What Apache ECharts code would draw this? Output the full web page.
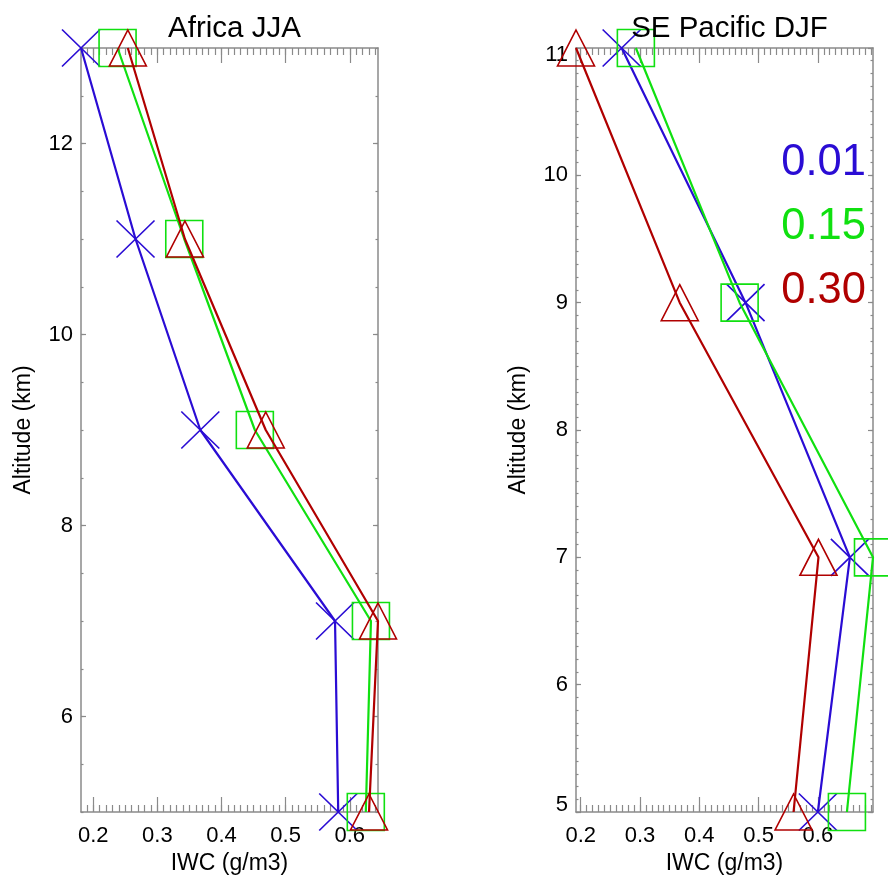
<!DOCTYPE html>
<html>
<head>
<meta charset="utf-8">
<script src="https://cdn.jsdelivr.net/npm/echarts@6/dist/echarts.min.js"></script>
<style>
  html, body { margin: 0; padding: 0; background: #fff; }
  #chart { width: 888px; height: 875px; }
</style>
</head>
<body>
<div id="chart"></div>
<script>
// Altitude levels (km) of each profile
const altitudesAfrica = [13, 11, 9, 7, 5];
const altitudesPacific = [11, 9, 7, 5];

// IWC (g/m3) profiles, one per threshold
const africa001 = [0.181, 0.266, 0.367, 0.577, 0.582];
const africa015 = [0.238, 0.342, 0.452, 0.633, 0.625];
const africa030 = [0.254, 0.343, 0.469, 0.644, 0.630];

const pacific001 = [0.269, 0.478, 0.654, 0.600];
const pacific015 = [0.293, 0.468, 0.693, 0.649];
const pacific030 = [0.192, 0.367, 0.601, 0.559];

// Panel titles, legend entries and tick labels
const panelTitles = ['Africa JJA', 'SE Pacific DJF'];
const thresholdNames = ['0.01', '0.15', '0.30'];
const xTickLabels = [0.2, 0.3, 0.4, 0.5, 0.6];
const yTickLabelsAfrica = [6, 8, 10, 12];
const yTickLabelsPacific = [5, 6, 7, 8, 9, 10, 11];

const colors = ['#2a0cd4', '#10e010', '#b00000'];
const axisGray = '#8a8a8a';
const fontFamily = 'Liberation Sans, Arial, Helvetica, sans-serif';

const chart = echarts.init(document.getElementById('chart'), null, { renderer: 'canvas' });

function steps(min, max, step) {
  const out = [];
  const k0 = Math.ceil(min / step - 1e-9), k1 = Math.floor(max / step + 1e-9);
  for (let k = k0; k <= k1; k++) out.push(Math.round(k * step * 1000) / 1000);
  return out;
}

const panels = [
  {
    grid: { left: 81, top: 48, width: 297, height: 764, outerBoundsMode: 'none', containLabel: false },
    alt: altitudesAfrica,
    series: [africa001, africa015, africa030],
    yLabels: yTickLabelsAfrica,
    yMinorStep: 0.5
  },
  {
    grid: { left: 576, top: 48, width: 297, height: 764, outerBoundsMode: 'none', containLabel: false },
    alt: altitudesPacific,
    series: [pacific001, pacific015, pacific030],
    yLabels: yTickLabelsPacific,
    yMinorStep: 0.1
  }
];

const markers = [
  'path://M0,0L10,10M10,0L0,10',
  'rect',
  'triangle'
];
const markerSizes = [[38, 37], [37, 37], [37, 36]];

const grid = [], xAxis = [], yAxis = [], series = [], title = [];
const tickLine = { color: axisGray, width: 1.2 };

panels.forEach((p, g) => {
  grid.push(p.grid);
  const allX = [].concat(...p.series);
  const xMin = Math.min(...allX), xMax = Math.max(...allX);
  const yMin = Math.min(...p.alt), yMax = Math.max(...p.alt);
  const xMajor = xTickLabels.filter(v => v >= xMin && v <= xMax);
  const xMinor = steps(xMin, xMax, 0.01);
  const yMajor = steps(yMin, yMax, 1).filter(v => p.yLabels.includes(v) || g === 1);
  const yMinor = steps(yMin, yMax, p.yMinorStep);

  const baseX = { gridIndex: g, type: 'value', min: xMin, max: xMax, splitLine: { show: false } };
  const baseY = { gridIndex: g, type: 'value', min: yMin, max: yMax, splitLine: { show: false } };

  // bottom axis with labels and major ticks
  xAxis.push(Object.assign({}, baseX, {
    position: 'bottom',
    axisLine: { show: true, onZero: false, lineStyle: { color: axisGray, width: 1.5 } },
    axisTick: { show: true, inside: true, length: 15, customValues: xMajor, lineStyle: tickLine },
    axisLabel: { customValues: xTickLabels, formatter: v => v.toFixed(1), margin: 13,
                 fontSize: 22, color: '#000', fontFamily },
    name: 'IWC (g/m3)', nameLocation: 'middle', nameGap: 35,
    nameTextStyle: { fontSize: 23, color: '#000', fontFamily }
  }));
  // bottom minor ticks
  xAxis.push(Object.assign({}, baseX, {
    position: 'bottom',
    axisLine: { show: false, onZero: false },
    axisTick: { show: true, inside: true, length: 7, customValues: xMinor, lineStyle: tickLine },
    axisLabel: { show: false }
  }));
  // top mirror: major + minor ticks
  xAxis.push(Object.assign({}, baseX, {
    position: 'top',
    axisLine: { show: true, onZero: false, lineStyle: { color: axisGray, width: 1.5 } },
    axisTick: { show: true, inside: true, length: 15, customValues: xMajor, lineStyle: tickLine },
    axisLabel: { show: false }
  }));
  xAxis.push(Object.assign({}, baseX, {
    position: 'top',
    axisLine: { show: false, onZero: false },
    axisTick: { show: true, inside: true, length: 7, customValues: xMinor, lineStyle: tickLine },
    axisLabel: { show: false }
  }));

  // left axis with labels and major ticks; end labels nudged inward
  yAxis.push(Object.assign({}, baseY, {
    position: 'left',
    axisLine: { show: true, onZero: false, lineStyle: { color: axisGray, width: 1.5 } },
    axisTick: { show: true, inside: true, length: 5, customValues: yMajor, lineStyle: tickLine },
    axisLabel: {
      customValues: p.yLabels, margin: 8, fontSize: 22, color: '#000', fontFamily,
      formatter: v => v === yMin ? '{lo|' + v + '}' : v === yMax ? '{hi|' + v + '}' : String(v),
      rich: {
        lo: { fontSize: 22, color: '#000', fontFamily, padding: [0, 0, 14, 0] },
        hi: { fontSize: 22, color: '#000', fontFamily, padding: [14, 0, 0, 0] }
      }
    },
    name: 'Altitude (km)', nameLocation: 'middle', nameGap: 46,
    nameTextStyle: { fontSize: 23, color: '#000', fontFamily }
  }));
  yAxis.push(Object.assign({}, baseY, {
    position: 'left',
    axisLine: { show: false, onZero: false },
    axisTick: { show: true, inside: true, length: 2.5, customValues: yMinor, lineStyle: tickLine },
    axisLabel: { show: false }
  }));
  // right mirror
  yAxis.push(Object.assign({}, baseY, {
    position: 'right',
    axisLine: { show: true, onZero: false, lineStyle: { color: axisGray, width: 1.5 } },
    axisTick: { show: true, inside: true, length: 5, customValues: yMajor, lineStyle: tickLine },
    axisLabel: { show: false }
  }));
  yAxis.push(Object.assign({}, baseY, {
    position: 'right',
    axisLine: { show: false, onZero: false },
    axisTick: { show: true, inside: true, length: 2.5, customValues: yMinor, lineStyle: tickLine },
    axisLabel: { show: false }
  }));

  p.series.forEach((vals, s) => {
    series.push({
      name: thresholdNames[s],
      type: 'line',
      xAxisIndex: g * 4,
      yAxisIndex: g * 4,
      data: vals.map((x, i) => [x, p.alt[i]]),
      clip: false,
      symbol: markers[s],
      symbolSize: markerSizes[s],
      lineStyle: { color: colors[s], width: 2.2 },
      itemStyle: { color: 'rgba(0,0,0,0)', borderColor: colors[s], borderWidth: 1.6 },
      emphasis: { disabled: true },
      z: 3 + s
    });
  });

  title.push({
    text: panelTitles[g],
    left: p.grid.left + p.grid.width / 2,
    textAlign: 'center',
    top: 9,
    textStyle: { fontSize: 29.5, fontWeight: 'normal', color: '#000', fontFamily }
  });
});

chart.setOption({
  animation: false,
  backgroundColor: '#fff',
  title,
  grid,
  xAxis,
  yAxis,
  legend: {
    orient: 'vertical',
    right: 17,
    top: 141,
    padding: 0,
    align: 'right',
    icon: 'none',
    itemWidth: 0,
    itemHeight: 43,
    itemGap: 20,
    selectedMode: false,
    textStyle: { fontSize: 43.5, lineHeight: 43, fontFamily },
    data: thresholdNames.map((n, i) => ({ name: n, textStyle: { color: colors[i] } }))
  },
  series
});
</script>
</body>
</html>
